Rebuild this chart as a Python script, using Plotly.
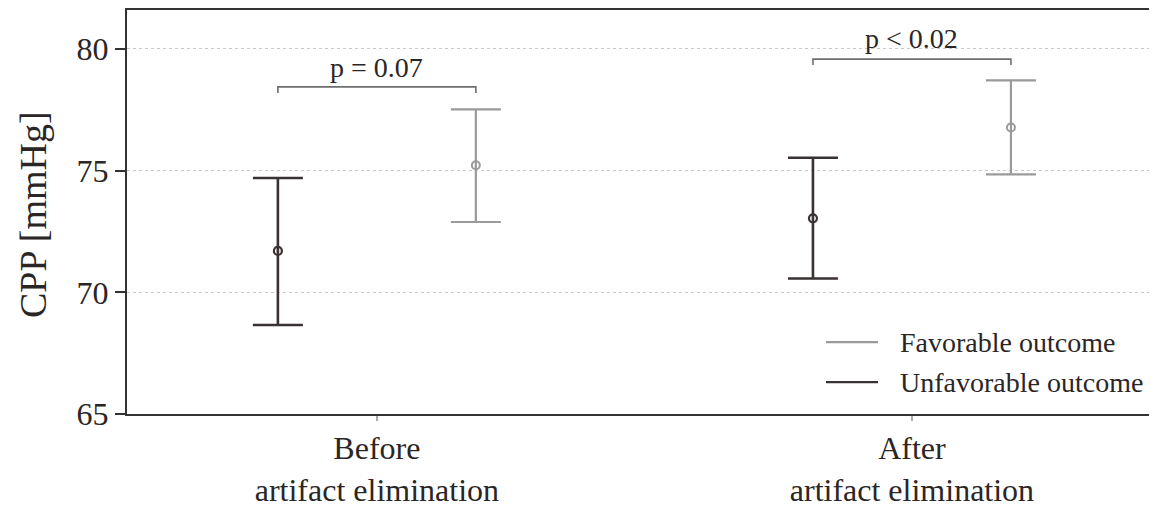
import plotly.graph_objects as go

# ---- data ----
categories = ["Before<br>artifact elimination", "After<br>artifact elimination"]
cat_pos = [0, 1]
unfav_mean = [71.70, 73.04]
unfav_upper = [74.70, 75.53]
unfav_lower = [68.66, 70.57]
fav_mean = [75.22, 76.77]
fav_upper = [77.52, 78.71]
fav_lower = [72.89, 74.85]
p_labels = ["p = 0.07", "p < 0.02"]
bracket_top = [78.44, 79.58]
bracket_end = [78.19, 79.34]
p_text_y = [79.22, 80.41]

OFF = 0.185
UNFAV_COLOR = "#3a3232"
FAV_COLOR = "#9a9a9a"
TEXT_COLOR = "#2b2626"
FONT = "Liberation Serif, Times New Roman, serif"

fig = go.Figure()

fig.add_trace(go.Scatter(
    x=[c - OFF for c in cat_pos], y=unfav_mean, mode="markers",
    name="Unfavorable outcome", showlegend=False,
    marker=dict(symbol="circle-open", size=8, color=UNFAV_COLOR, line=dict(width=2.2)),
    error_y=dict(type="data", symmetric=False,
                 array=[u - m for u, m in zip(unfav_upper, unfav_mean)],
                 arrayminus=[m - l for m, l in zip(unfav_mean, unfav_lower)],
                 color=UNFAV_COLOR, thickness=2.6, width=25),
))
fig.add_trace(go.Scatter(
    x=[c + OFF for c in cat_pos], y=fav_mean, mode="markers",
    name="Favorable outcome", showlegend=False,
    marker=dict(symbol="circle-open", size=8, color=FAV_COLOR, line=dict(width=2)),
    error_y=dict(type="data", symmetric=False,
                 array=[u - m for u, m in zip(fav_upper, fav_mean)],
                 arrayminus=[m - l for m, l in zip(fav_mean, fav_lower)],
                 color=FAV_COLOR, thickness=2.2, width=25),
))

# significance brackets
for c, top, end, lab, ty in zip(cat_pos, bracket_top, bracket_end, p_labels, p_text_y):
    fig.add_trace(go.Scatter(
        x=[c - OFF, c - OFF, c + OFF, c + OFF], y=[end, top, top, end],
        mode="lines", showlegend=False, hoverinfo="skip",
        line=dict(color="#6e6e6e", width=1.6),
    ))
    fig.add_annotation(x=c, y=ty, xref="x", yref="y", text=lab, showarrow=False,
                       xanchor="center", yanchor="middle",
                       font=dict(family=FONT, size=28, color=TEXT_COLOR))

# manual legend
legend_items = [("Favorable outcome", FAV_COLOR, 0.178), ("Unfavorable outcome", UNFAV_COLOR, 0.079)]
for name, col, yy in legend_items:
    fig.add_shape(type="line", xref="paper", yref="paper", x0=0.6786, x1=0.7291, y0=yy, y1=yy,
                  line=dict(color=col, width=2.2))
    fig.add_annotation(x=0.7485, y=yy, xref="paper", yref="paper", text=name, showarrow=False,
                       xanchor="left", yanchor="middle",
                       font=dict(family=FONT, size=28, color=TEXT_COLOR))

# y-axis title
fig.add_annotation(x=-0.0913, y=0.495, xref="paper", yref="paper", text="CPP [mmHg]",
                   showarrow=False, textangle=-90, xanchor="center", yanchor="middle",
                   font=dict(family=FONT, size=38, color=TEXT_COLOR))

fig.update_layout(
    width=1149, height=500,
    margin=dict(l=119, r=0, t=2, b=94),
    plot_bgcolor="white", paper_bgcolor="white",
    font=dict(family=FONT, color=TEXT_COLOR),
    showlegend=False,
    xaxis=dict(range=[-0.467, 1.458], tickmode="array", tickvals=cat_pos, ticktext=categories,
               showgrid=False, zeroline=False, showline=True, linecolor="#333333", linewidth=2,
               mirror=True, ticks="outside", ticklen=5, tickcolor="#aaaaaa", tickwidth=1.5,
               tickfont=dict(family=FONT, size=32, color=TEXT_COLOR)),
    yaxis=dict(range=[65, 81.6], tickmode="array", tickvals=[65, 70, 75, 80],
               showgrid=True, gridcolor="#c8c8c8", griddash="dot", gridwidth=1,
               zeroline=False, showline=True, linecolor="#333333", linewidth=2,
               ticks="outside", ticklen=10, tickcolor="#333333", tickwidth=2,
               tickfont=dict(family=FONT, size=32, color=TEXT_COLOR)),
)

fig.write_html("out.html")
